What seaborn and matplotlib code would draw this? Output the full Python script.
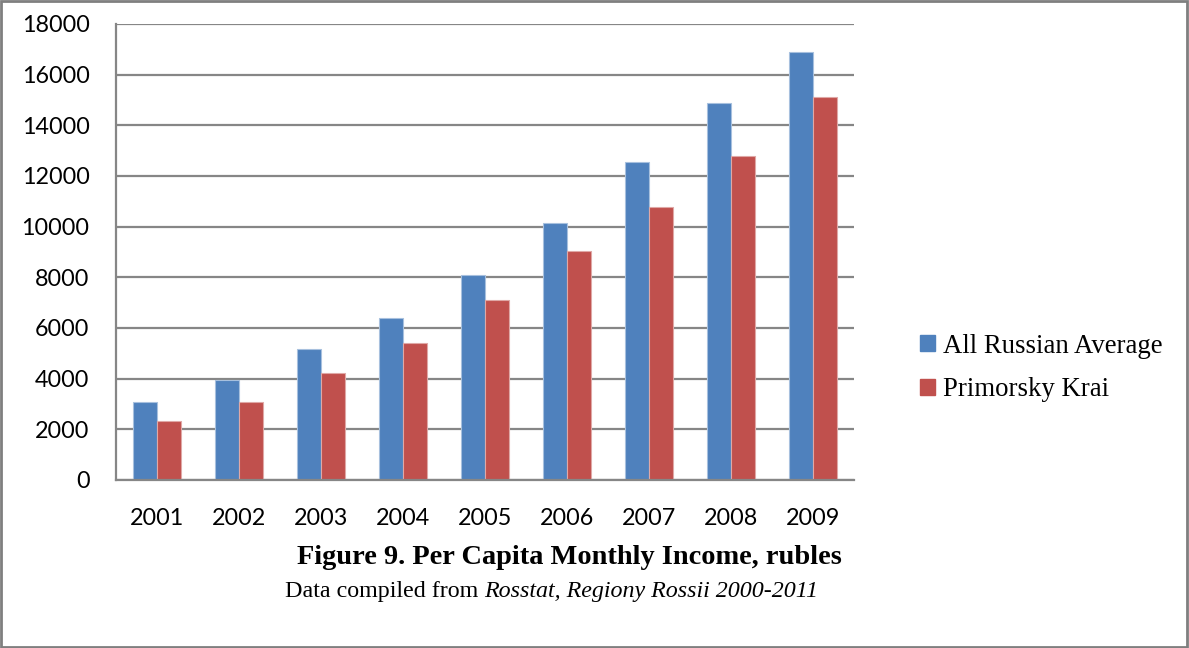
import matplotlib
matplotlib.use("Agg")
import matplotlib.pyplot as plt
from matplotlib.patches import Rectangle, Patch
import pandas as pd
import seaborn as sns

# Per capita monthly income, rubles
years = ["2001", "2002", "2003", "2004", "2005", "2006", "2007", "2008", "2009"]
russia_avg = [3062, 3947, 5170, 6410, 8088, 10155, 12540, 14864, 16895]
primorsky = [2330, 3090, 4210, 5410, 7120, 9055, 10790, 12780, 15130]
series_names = ["All Russian Average", "Primorsky Krai"]
colors = ["#4F81BD", "#C0504D"]
edge_colors = ["#A7C0DE", "#DFA8A6"]
y_ticks = list(range(0, 18001, 2000))

df = pd.DataFrame({
    "year": years * 2,
    "income": russia_avg + primorsky,
    "series": [series_names[0]] * len(years) + [series_names[1]] * len(years),
})

sns.set_theme(style="white")
plt.rcParams["font.family"] = ["Lato", "DejaVu Sans"]
plt.rcParams["text.color"] = "black"

fig = plt.figure(figsize=(11.89, 6.48), dpi=100)
ax = fig.add_axes([116 / 1189, 1 - 480 / 648, (854 - 116) / 1189, (480 - 24) / 648])

sns.barplot(data=df, x="year", y="income", hue="series", order=years,
            hue_order=series_names, palette=colors, width=0.58,
            saturation=1, ax=ax, legend=False)

# light outline around each bar
for container, ec in zip(ax.containers, edge_colors):
    for bar in container:
        bar.set_edgecolor(ec)
        bar.set_linewidth(0.8)

ax.set_ylim(0, 18000)
ax.set_xlim(-0.5, len(years) - 0.5)
ax.set_yticks(y_ticks)
ax.set_yticklabels([str(v) for v in y_ticks])
ax.tick_params(axis="x", labelsize=16.8, colors="black", pad=20, length=0)
ax.tick_params(axis="y", labelsize=16.8, colors="black", pad=19, length=0)
ax.set_xlabel("")
ax.set_ylabel("")

ax.yaxis.grid(True, color="#868686", linewidth=1.6)
ax.set_axisbelow(True)
for side in ["top", "right"]:
    ax.spines[side].set_visible(False)
for side in ["left", "bottom"]:
    ax.spines[side].set_color("#868686")
    ax.spines[side].set_linewidth(1.6)

handles = [Patch(facecolor=c, edgecolor=c) for c in colors]
fig.legend(handles, series_names, loc="center left",
           bbox_to_anchor=(907 / 1189, 1 - 368 / 648),
           frameon=False, prop={"family": "Liberation Serif", "size": 19.3},
           handlelength=0.55, handleheight=0.55, handletextpad=0.3,
           labelspacing=0.7, borderpad=0)

fig.text(569 / 1189, 1 - 557 / 648, "Figure 9. Per Capita Monthly Income, rubles",
         ha="center", va="center", fontsize=20.4, fontweight="bold",
         family="Liberation Serif", color="black")
prefix = fig.text(285 / 1189, 1 - 591 / 648, "Data compiled from ", ha="left",
                  va="center", fontsize=17.3, family="Liberation Serif",
                  color="black")
ax.annotate("Rosstat, Regiony Rossii 2000-2011", xy=(1, 0), xycoords=prefix,
            ha="left", va="bottom", fontsize=17.3, style="italic",
            family="Liberation Serif", color="black", annotation_clip=False)

# frame around the whole figure
fig.patches.append(Rectangle((0.001, 0.002), 0.997, 0.996, transform=fig.transFigure,
                             fill=False, edgecolor="#7F7F7F", linewidth=2))

fig.savefig("out.png", dpi=100)
